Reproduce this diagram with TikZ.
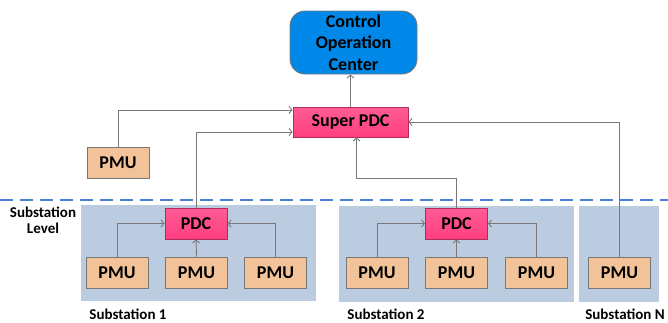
\documentclass[tikz,border=0pt]{standalone}
\usepackage{fontspec}
\setmainfont{Carlito}
\usepackage{tikz}
\usetikzlibrary{arrows.meta}
\definecolor{pmufill}{RGB}{242,194,152}
\definecolor{pdcfill}{RGB}{255,62,128}
\definecolor{pdctop}{RGB}{255,92,150}
\definecolor{cocfill}{RGB}{0,136,232}
\definecolor{subfill}{RGB}{188,204,224}
\definecolor{dashblue}{RGB}{74,128,214}
\definecolor{linegray}{RGB}{120,120,120}
\tikzset{
	box/.style={draw=linegray, line width=0.9pt, inner sep=0pt, font=\fontsize{18}{21.5}\selectfont\bfseries},
	pmu/.style={box, fill=pmufill, minimum width=62pt, minimum height=31pt},
	pdc/.style={box, draw=pdcfill!70!black, top color=pdctop, bottom color=pdcfill, minimum width=62pt, minimum height=31pt},
	link/.style={draw=linegray, line width=0.9pt, -{Straight Barb[length=3pt,width=7pt]}},
	sublabel/.style={font=\fontsize{15}{16}\selectfont\bfseries, inner sep=0pt}
}

\begin{document}
\begin{tikzpicture}[x=1pt, y=-1pt]
			%%%%% START %%%%%
			\useasboundingbox (0, 0) rectangle (668, 322);
			
			% substation backgrounds
			\fill[subfill] (81, 205) rectangle (316, 301);
			\fill[subfill] (339, 206) rectangle (574, 302);
			\fill[subfill] (579, 206) rectangle (659, 302);
			
			\draw[dashblue, line width=1.2pt, dash pattern=on 13pt off 7pt] (0, 200) -- (668, 200);
			
			% control level
			\node[box, fill=cocfill, rounded corners=15pt, minimum width=127pt, minimum height=63pt, align=center] (coc) at (353.5, 42.5) {Control\\Operation\\Center};
			\node[pdc, minimum width=115pt, minimum height=30pt] (spdc) at (350.5, 122) {Super PDC};
			\node[pmu] (pmu0) at (118, 163) {PMU};
			
			% substation 1
			\node[pdc] (pdcA) at (196, 223.5) {PDC};
			\node[pmu] (pmuA1) at (117, 272.5) {PMU};
			\node[pmu] (pmuA2) at (196.5, 272.5) {PMU};
			\node[pmu] (pmuA3) at (275.5, 272.5) {PMU};
			
			% substation 2
			\node[pdc] (pdcB) at (456.5, 223.5) {PDC};
			\node[pmu] (pmuB1) at (377, 272.5) {PMU};
			\node[pmu] (pmuB2) at (456.5, 272.5) {PMU};
			\node[pmu] (pmuB3) at (536.5, 272.5) {PMU};
			
			% substation N
			\node[pmu] (pmuN) at (619.5, 272.5) {PMU};
			
			% labels
			\node[sublabel, align=center] (lvl) at (43, 220) {Substation\\Level};
			\node[sublabel] (labA) at (128, 314.5) {Substation 1};
			\node[sublabel] (labB) at (386, 314.5) {Substation 2};
			\node[sublabel] (labN) at (625, 314.5) {Substation N};
			
			% connections
			\draw[link] (spdc.north) -- (spdc.north |- coc.south);
			\draw[link] (pmu0.north) |- ([yshift=12pt]spdc.west);
			\draw[link] (pdcA.north) |- ([yshift=-10pt]spdc.west);
			\draw[link] (pdcB.north) -- ++(0, -29) -| ([xshift=6pt]spdc.south);
			\draw[link] (pmuN.north) |- (spdc.east);
			
			\draw[link] (pmuA1.north) |- (pdcA.west);
			\draw[link] (pmuA2.north) -- (pdcA.south);
			\draw[link] (pmuA3.north) |- (pdcA.east);
			
			\draw[link] (pmuB1.north) |- (pdcB.west);
			\draw[link] (pmuB2.north) -- (pdcB.south);
			\draw[link] (pmuB3.north) |- (pdcB.east);
			%%%%% END %%%%%
\end{tikzpicture}
\end{document}
